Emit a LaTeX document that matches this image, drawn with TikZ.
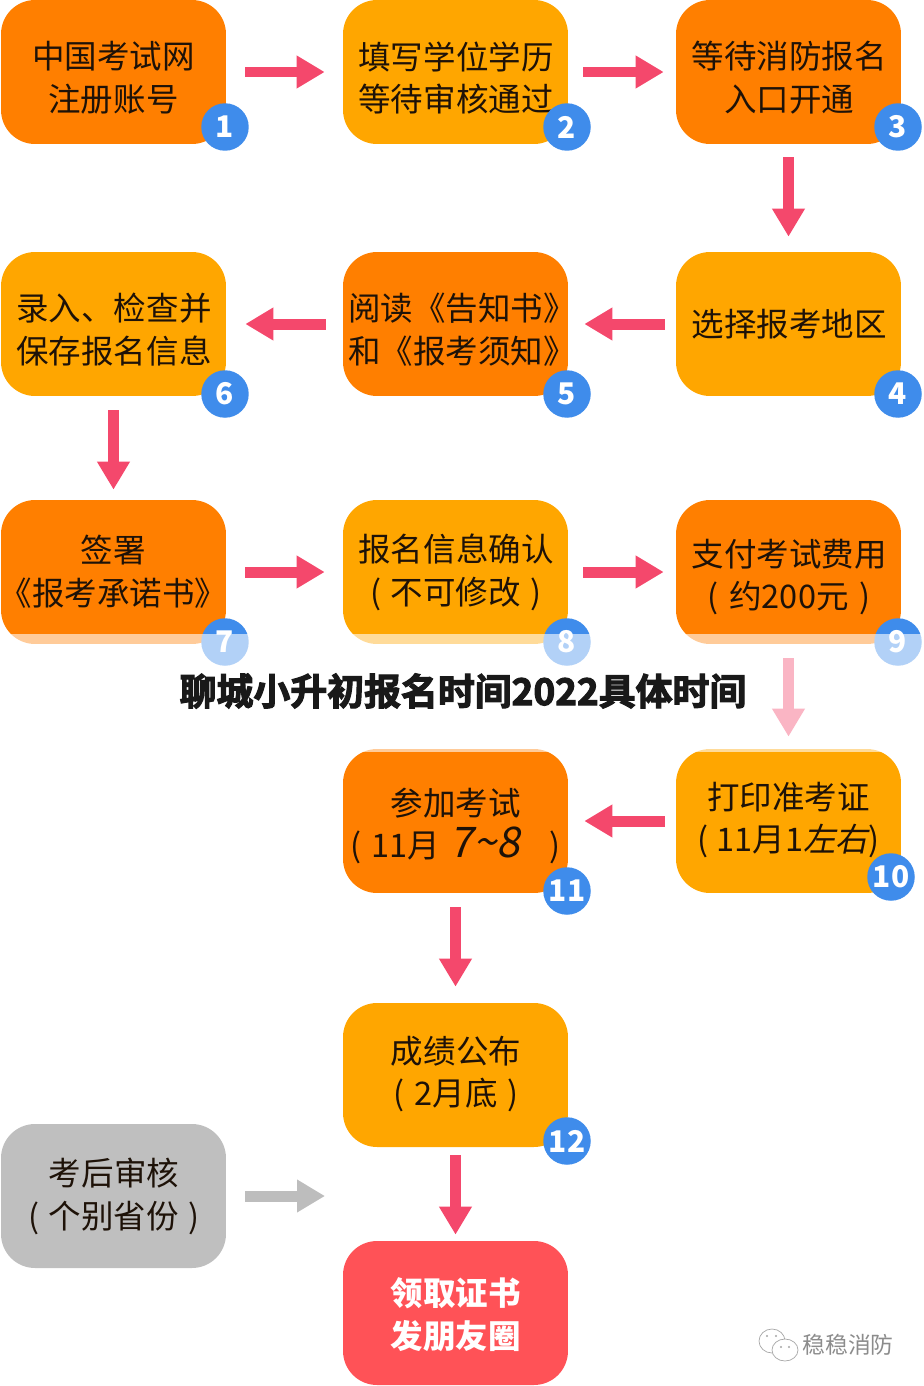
\documentclass[tikz,border=0pt]{standalone}
\usepackage{fontspec}
\usepackage{tikz}
\usepackage{xcolor}
\usetikzlibrary{arrows.meta}
\setmainfont{Noto Sans CJK SC}
\newfontfamily\slantfont[FakeSlant=0.2]{Noto Sans CJK SC}
\newfontfamily\heavyfont[FakeBold=3]{Noto Sans CJK SC Bold}
\definecolor{boxorange}{HTML}{FF7F00}
\definecolor{boxamber}{HTML}{FFA600}
\definecolor{boxgray}{HTML}{BFBFBF}
\definecolor{boxred}{HTML}{FF5257}
\definecolor{arrowred}{HTML}{F4486C}
\definecolor{arrowgray}{HTML}{BDBDBD}
\definecolor{dotblue}{HTML}{3F8CEB}
\definecolor{inkdark}{HTML}{1E1208}
\tikzset{
  flowbox/.style={rounded corners=0.68cm,minimum width=4.5cm,minimum height=2.88cm,inner sep=0pt},
  orangebox/.style={flowbox,fill=boxorange},
  amberbox/.style={flowbox,fill=boxamber},
  graybox/.style={flowbox,fill=boxgray},
  redbox/.style={flowbox,fill=boxred},
  boxtext/.style={align=center,inner sep=0pt,text=inkdark,font=\fontsize{18.5pt}{24.4pt}\selectfont},
  numdot/.style={circle,fill=dotblue,minimum size=0.95cm,inner sep=0pt,text=white,font=\fontsize{17pt}{17pt}\selectfont\bfseries},
  flowarrow/.style={draw=arrowred,line width=0.22cm,-{Triangle[length=0.56cm,width=0.62cm]}},
  grayarrow/.style={flowarrow,draw=arrowgray}
}
\begin{document}
\begin{tikzpicture}[x=0.02cm,y=-0.02cm]
\useasboundingbox (0,0) rectangle (923,1386);
% boxes
\node (box1) at (113.5,72) [orangebox] {};
\node (box2) at (455.5,72) [amberbox] {};
\node (box3) at (788.5,72) [orangebox] {};
\node (box4) at (788.5,324) [amberbox] {};
\node (box5) at (455.5,324) [orangebox] {};
\node (box6) at (113.5,324) [amberbox] {};
\node (box7) at (113.5,572) [orangebox] {};
\node (box8) at (455.5,572) [amberbox] {};
\node (box9) at (788.5,572) [orangebox] {};
\node (box10) at (788.5,821) [amberbox] {};
\node (box11) at (455.5,821) [orangebox] {};
\node (box12) at (455.5,1075) [amberbox] {};
\node (boxcheck) at (113.5,1196) [graybox] {};
\node (boxcert) at (455.5,1313) [redbox] {};
\coordinate (checkend) at (343,1196);
% texts
\node (text1) at (113.5,78) [boxtext] {中国考试网\\注册账号};
\node (text2) at (456,78) [boxtext] {填写学位学历\\等待审核通过};
\node (text3) at (789,78) [boxtext] {等待消防报名\\入口开通};
\node (text4) at (789,324) [boxtext] {选择报考地区};
\node (text5) at (462,330) [boxtext] {阅读《告知书》\\和《报考须知》};
\node (text6) at (114,330) [boxtext] {录入、检查并\\保存报名信息};
\node (text7) at (113.5,572) [boxtext] {签署\\《报考承诺书》};
\node (text8) at (456,572) [boxtext] {报名信息确认\\(\hspace{0.3em}不可修改\hspace{0.3em})};
\node (text9) at (789,577) [boxtext] {支付考试费用\\(\hspace{0.35em}约200元\hspace{0.35em})};
\node (text10) at (788.5,820) [boxtext] {打印准考证\\(\hspace{0.25em}11月1{\slantfont 左右})};
\node (text11) at (455.5,826) [boxtext] {参加考试\\(\hspace{0.3em}11月\hspace{0.3em}{\slantfont\fontsize{24pt}{24.4pt}\selectfont 7\textasciitilde 8}\hspace{0.9em})};
\node (text12) at (456,1074) [boxtext] {成绩公布\\(\hspace{0.3em}2月底\hspace{0.3em})};
\node (textcheck) at (114,1196) [boxtext] {考后审核\\(\hspace{0.3em}个别省份\hspace{0.3em})};
\node (textcert) at (455.5,1315) [boxtext,text=white,font=\fontsize{18.5pt}{24.4pt}\selectfont\bfseries] {领取证书\\发朋友圈};
% arrows
\draw [flowarrow,shorten <=0.38cm,shorten >=0.36cm] (box1) -- (box2);
\draw [flowarrow,shorten <=0.3cm,shorten >=0.24cm] (box2) -- (box3);
\draw [flowarrow,shorten <=0.26cm,shorten >=0.3cm] (box3) -- (box4);
\draw [flowarrow,shorten <=0.22cm,shorten >=0.32cm] (box4) -- (box5);
\draw [flowarrow,shorten <=0.34cm,shorten >=0.38cm] (box5) -- (box6);
\draw [flowarrow,shorten <=0.28cm,shorten >=0.2cm] (box6) -- (box7);
\draw [flowarrow,shorten <=0.38cm,shorten >=0.36cm] (box7) -- (box8);
\draw [flowarrow,shorten <=0.3cm,shorten >=0.24cm] (box8) -- (box9);
\draw [flowarrow,shorten <=0.28cm,shorten >=0.24cm] (box9) -- (box10);
\draw [flowarrow,shorten <=0.22cm,shorten >=0.32cm] (box10) -- (box11);
\draw [flowarrow,shorten <=0.28cm,shorten >=0.32cm] (box11) -- (box12);
\draw [flowarrow,shorten <=0.16cm,shorten >=0.12cm] (box12) -- (boxcert);
\draw [grayarrow,shorten <=0.38cm,shorten >=0.36cm] (boxcheck) -- (checkend);
% number dots
\node (num1) at (225,127) [numdot] {1};
\node (num2) at (567,127) [numdot] {2};
\node (num3) at (898,127) [numdot] {3};
\node (num4) at (898,394) [numdot] {4};
\node (num5) at (567,394) [numdot] {5};
\node (num6) at (225,394) [numdot] {6};
\node (num7) at (225,642) [numdot] {7};
\node (num8) at (567,642) [numdot] {8};
\node (num9) at (898,642) [numdot] {9};
\node (num10) at (891,877) [numdot] {10};
\node (num11) at (567,891) [numdot] {11};
\node (num12) at (567,1141) [numdot] {12};
% title band
\fill [white,opacity=0.6] (0,634) rectangle (923,752);
\node (title) at (463,691) [inner sep=0pt,text=black!90,font=\fontsize{21pt}{21pt}\heavyfont] {聊城小升初报名时间2022具体时间};
% watermark
\draw [black!35,fill=white,line width=0.4pt] (772,1341) circle [x radius=13,y radius=12];
\draw [black!35,fill=white,line width=0.4pt] (785,1350) circle [x radius=13,y radius=11];
\fill [black!35] (767,1336) circle [radius=1.2] (776,1336) circle [radius=1.2] (781,1347) circle [radius=1.2] (789,1347) circle [radius=1.2];
\node (mark) at (848,1345) [inner sep=0pt,text=black!45,font=\fontsize{13pt}{13pt}\selectfont] {稳稳消防};
\end{tikzpicture}
\end{document}
